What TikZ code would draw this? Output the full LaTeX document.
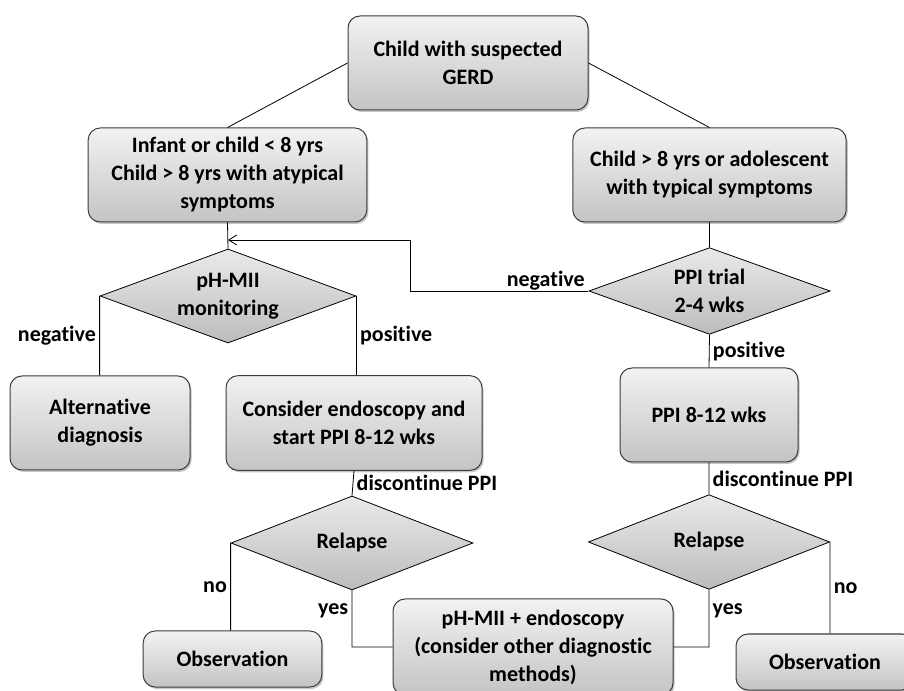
\documentclass[tikz,border=0pt]{standalone}
\usepackage{fontspec}
\setmainfont{Carlito}[Ligatures=NoCommon]
\usetikzlibrary{arrows.meta}
\usetikzlibrary{shapes.geometric}
\usetikzlibrary{shadows}

\definecolor{boxtop}{HTML}{F2F2F2}
\definecolor{boxbottom}{HTML}{C4C4C4}
\definecolor{boxline}{HTML}{3C3C3C}
\definecolor{dectop}{HTML}{EAEAEA}
\definecolor{decbottom}{HTML}{BCBCBC}

\tikzset{
  txt/.style={font=\bfseries\fontsize{16.5}{21}\selectfont,align=center},
  box/.style={txt,draw=boxline,line width=0.75pt,rounded corners=9pt,
    top color=boxtop,bottom color=boxbottom,
    drop shadow={shadow xshift=1.2pt,shadow yshift=-1.5pt,opacity=0.45}},
  decision/.style={txt,draw=black,line width=0.6pt,diamond,aspect=2.7,inner sep=0pt,
    top color=dectop,bottom color=decbottom},
  lbl/.style={txt,inner sep=2.5pt},
}

\begin{document}
\begin{tikzpicture}[x=0.75pt,y=-0.75pt]

  \useasboundingbox (0,0) rectangle (904,691);

  \node [box,minimum width=180pt,minimum height=70.5pt] (child) at (468,63) {Child with suspected\\GERD};
  \node [box,minimum width=209pt,minimum height=70.5pt] (young) at (227.5,175) {Infant or child < 8 yrs\\Child > 8 yrs with atypical\\symptoms};
  \node [box,minimum width=205pt,minimum height=70.5pt] (older) at (709.5,175) {Child > 8 yrs or adolescent\\with typical symptoms};

  \node [decision,minimum width=192pt,minimum height=70.5pt] (phmii) at (228,296) {pH-MII\\monitoring};
  \node [decision,minimum width=181pt,minimum height=65pt] (ppi_trial) at (709.5,291) {PPI trial\\2-4 wks};

  \node [box,minimum width=135pt,minimum height=70.5pt] (alt_diag) at (100,423) {Alternative\\diagnosis};
  \node [box,minimum width=192pt,minimum height=71pt] (endo_ppi) at (354,423) {Consider endoscopy and\\start PPI 8-12 wks};
  \node [box,minimum width=133.5pt,minimum height=70.5pt] (ppi_long) at (709,415) {PPI 8-12 wks};

  \node [decision,minimum width=181.5pt,minimum height=70.5pt] (relapse_l) at (352,543) {Relapse};
  \node [decision,minimum width=181pt,minimum height=71pt] (relapse_r) at (709,542) {Relapse};

  \node [box,minimum width=134pt,minimum height=42pt] (obs_l) at (232.5,659) {Observation};
  \node [box,minimum width=210pt,minimum height=72pt] (mii_endo) at (533,647) {pH-MII + endoscopy\\(consider other diagnostic\\methods)};
  \node [box,minimum width=133.5pt,minimum height=42pt] (obs_r) at (825,662) {Observation};

  \coordinate (turn) at (410,240);

  \path [draw,line width=0.6pt]
    (child.west)       -- (young.north)
    (child.east)       -- (older.north)
    (young.south)      -- (phmii.north)
    (older.south)      -- (ppi_trial.north)
    (phmii.west)       -- node [lbl,left] {negative} (phmii.west |- alt_diag.north)
    (phmii.east)       -- node [lbl,right] {positive} (phmii.east |- endo_ppi.north)
    (ppi_trial.south)  -- node [lbl,right] {positive} (ppi_long.north)
    (endo_ppi.south)   -- node [lbl,right] {discontinue PPI} (relapse_l.north)
    (ppi_long.south)   -- node [lbl,right] {discontinue PPI} (relapse_r.north)
    (relapse_l.west)   -- node [lbl,left] {no} (relapse_l.west |- obs_l.north)
    (relapse_r.east)   -- node [lbl,right] {no} (relapse_r.east |- obs_r.north)
    (relapse_l.south)  |- node [lbl,left,pos=0.18] {yes} (mii_endo.west)
    (relapse_r.south)  |- node [lbl,right,pos=0.18] {yes} (mii_endo.east);

  \draw [line width=0.6pt,->,>={Straight Barb[length=6pt,width=7.5pt]}]
    (ppi_trial.west) -- node [lbl,pos=0,above left,yshift=-2pt] {negative} (ppi_trial.west -| turn)
    -- (turn) -- (turn -| phmii.north);

\end{tikzpicture}
\end{document}
